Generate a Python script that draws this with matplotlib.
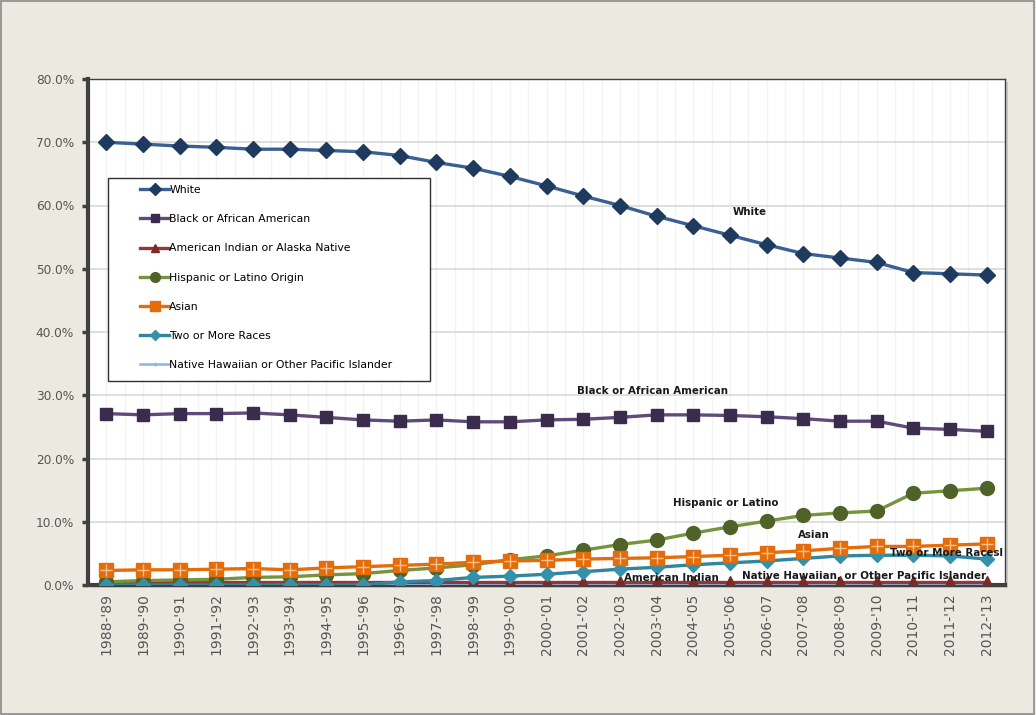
import matplotlib
matplotlib.use("Agg")
import matplotlib.pyplot as plt
from matplotlib.patches import Rectangle
from matplotlib.ticker import FuncFormatter, MultipleLocator

years = ["1988-'89", "1989-'90", "1990-'91", "1991-'92", "1992-'93", "1993-'94",
         "1994-'95", "1995-'96", "1996-'97", "1997-'98", "1998-'99", "1999-'00",
         "2000-'01", "2001-'02", "2002-'03", "2003-'04", "2004-'05", "2005-'06",
         "2006-'07", "2007-'08", "2008-'09", "2009-'10", "2010-'11", "2011-'12", "2012-'13"]

white = [70.0, 69.7, 69.4, 69.2, 68.9, 68.9, 68.7, 68.5, 67.9, 66.8, 65.9, 64.6,
         63.1, 61.5, 60.0, 58.3, 56.8, 55.3, 53.8, 52.4, 51.7, 51.0, 49.4, 49.2, 49.0]
black = [27.1, 26.9, 27.1, 27.1, 27.2, 26.9, 26.5, 26.1, 25.9, 26.1, 25.8, 25.8,
         26.1, 26.2, 26.5, 26.9, 26.9, 26.8, 26.6, 26.3, 25.9, 25.9, 24.8, 24.6, 24.3]
amer_indian = [0.4, 0.4, 0.4, 0.4, 0.4, 0.4, 0.4, 0.4, 0.4, 0.4, 0.4, 0.4,
               0.4, 0.4, 0.4, 0.4, 0.4, 0.4, 0.4, 0.4, 0.4, 0.4, 0.4, 0.4, 0.4]
hispanic = [0.5, 0.7, 0.8, 0.9, 1.2, 1.3, 1.6, 1.8, 2.3, 2.7, 3.2, 4.0,
            4.6, 5.5, 6.4, 7.1, 8.2, 9.2, 10.1, 11.0, 11.4, 11.7, 14.5, 14.9, 15.3]
asian = [2.3, 2.4, 2.4, 2.5, 2.6, 2.4, 2.7, 2.9, 3.1, 3.3, 3.6, 3.8,
         3.9, 4.1, 4.2, 4.3, 4.5, 4.7, 5.1, 5.4, 5.8, 6.1, 6.1, 6.3, 6.5]
two_more = [0.0, 0.0, 0.0, 0.0, 0.0, 0.0, 0.0, 0.0, 0.5, 0.7, 1.2, 1.4,
            1.7, 2.1, 2.5, 2.8, 3.2, 3.5, 3.8, 4.2, 4.6, 4.7, 4.7, 4.6, 4.1]
hawaiian = [0.1, 0.1, 0.1, 0.1, 0.1, 0.1, 0.1, 0.1, 0.1, 0.1, 0.1, 0.1,
            0.1, 0.1, 0.1, 0.1, 0.1, 0.1, 0.1, 0.1, 0.1, 0.1, 0.2, 0.2, 0.2]

labels = ["White", "Black or African American", "American Indian or Alaska Native",
          "Hispanic or Latino Origin", "Asian", "Two or More Races",
          "Native Hawaiian or Other Pacific Islander"]

annotations = [("White", 17.55, 59.0), ("Black or African American", 14.9, 30.7),
               ("Hispanic or Latino", 16.9, 13.0), ("Asian", 19.3, 7.9),
               ("Two or More Racesl", 22.9, 5.1), ("American Indian", 15.4, 1.1),
               ("Native Hawaiian, or Other Pacific Islander", 20.65, 1.4)]

plt.rcParams['font.family'] = ['DejaVu Sans']

fig = plt.figure(figsize=(10.36, 7.15), dpi=100)
fig.patch.set_facecolor('#ECE9E0')

L, R, T, B = 88/1036, 1005/1036, 1 - 79/715, 1 - 585/715
# shadow axes behind the plot area
sh = fig.add_axes([L + 3/1036, B - 3/715, R - L, T - B], zorder=0)
sh.set_facecolor('#c8c8c8')
sh.set_xticks([]); sh.set_yticks([])
for s in sh.spines.values():
    s.set_visible(False)

ax = fig.add_axes([L, B, R - L, T - B], zorder=1)
ax.set_facecolor('white')

x = list(range(len(years)))
lw = 2.4
ax.plot(x, white, color='#3A5F92', lw=lw, marker='D', ms=8.5,
        mfc='#1F3A5F', mec='#1F3A5F', label=labels[0], zorder=5)
ax.plot(x, black, color='#604A7B', lw=lw, marker='s', ms=9,
        mfc='#3B2C4E', mec='#3B2C4E', label=labels[1], zorder=5)
ax.plot(x, amer_indian, color='#953735', lw=lw, marker='^', ms=8,
        mfc='#7A2A28', mec='#7A2A28', label=labels[2], zorder=4)
ax.plot(x, hispanic, color='#77933C', lw=lw, marker='o', ms=10,
        mfc='#4F6228', mec='#4F6228', label=labels[3], zorder=5)
ax.plot(x, asian, color='#E46C0A', lw=lw, marker='s', ms=10,
        mfc='#E46C0A', mec='#E46C0A', label=labels[4], zorder=6)
ax.plot(x, asian, lw=0, marker='+', ms=9, mew=1.0, color='#F8C090', zorder=6)
ax.plot(x, two_more, color='#31859C', lw=lw, marker='D', ms=7.5,
        mfc='#3590AA', mec='#3590AA', label=labels[5], zorder=5)
ax.plot(x, hawaiian, color='#8EB4E3', lw=1.8, marker='+', ms=5,
        label=labels[6], zorder=3)

ax.set_xlim(-0.45, 24.45)
ax.set_ylim(0, 80)
ax.yaxis.set_major_locator(MultipleLocator(10))
ax.yaxis.set_major_formatter(FuncFormatter(lambda v, p: f"{v:.1f}%"))
ax.set_xticks(x)
ax.set_xticklabels(years, rotation=90, fontsize=10, color='#555555')
ax.set_xticks([i + 0.5 for i in range(-1, 25)], minor=True)
ax.tick_params(axis='y', labelsize=8.7, labelcolor='#555555', length=4, width=2.5,
               color='#404040', direction='out', pad=6)
ax.tick_params(axis='x', which='both', length=0, pad=6)

ax.grid(axis='y', color='#D9D9D9', lw=1.2, zorder=0)
ax.grid(axis='x', which='both', color='#F3F3F3', lw=1.0, zorder=0)
ax.set_axisbelow(True)

for s in ['left', 'bottom']:
    ax.spines[s].set_color('#404040')
    ax.spines[s].set_linewidth(3)
for s in ['top', 'right']:
    ax.spines[s].set_color('#404040')
    ax.spines[s].set_linewidth(1)

for txt, xi, yi in annotations:
    ax.text(xi, yi, txt, ha='center', va='center', fontsize=7.4,
            fontweight='bold', color='#1a1a1a', zorder=7)

# legend frame drawn manually, legend entries placed inside it
ax.add_patch(Rectangle((20/917, (585-381)/506), 322/917, 203/506, transform=ax.transAxes,
                       facecolor='white', edgecolor='#303030', lw=1.0, zorder=8))
leg = ax.legend(loc='upper left', bbox_to_anchor=(52/917, (585-185)/506),
                fontsize=7.8, labelspacing=1.77, handlelength=2.7,
                handletextpad=0.0, borderpad=0, borderaxespad=0, frameon=False,
                markerscale=0.7)
leg.set_zorder(9)

fig.patches.append(Rectangle((0.001, 0.001), 0.997, 0.997, transform=fig.transFigure,
                             fill=False, edgecolor='#8a8a8a', linewidth=1.2, zorder=10))

fig.savefig('out.png', dpi=100, facecolor=fig.get_facecolor())
